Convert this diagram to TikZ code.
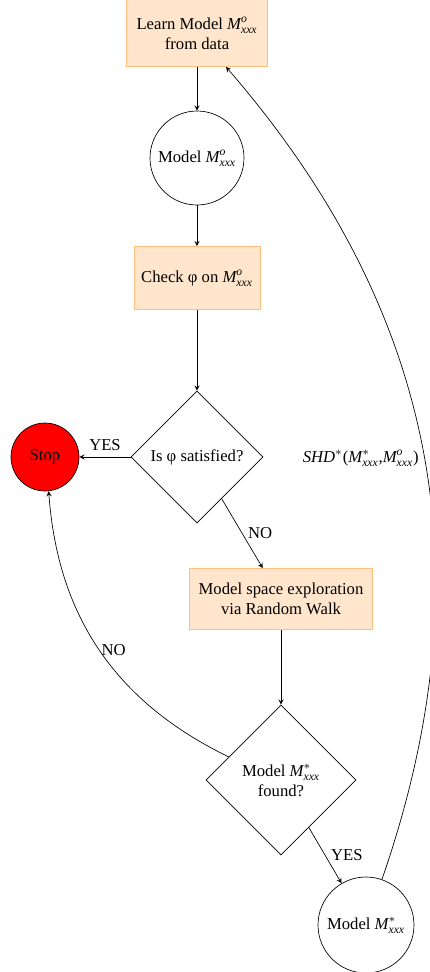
\documentclass[tikz,border=0pt]{standalone}
\usepackage{amsmath}
\usepackage{fontspec}
\setmainfont{Liberation Serif}
\usepackage{tikz}
\usetikzlibrary{shapes.geometric}
\newcommand{\Mxxx}[1]{\ensuremath{\text{\itshape M}^{#1}_{\text{\itshape xxx}}}}

\begin{document}
\begin{tikzpicture}[x=0.6pt, y=-0.6pt, >=stealth,
    stepbox/.style={rectangle, fill=orange!20, draw=orange!50, align=center, font=\normalsize},
    statecirc/.style={circle, draw=black, inner sep=1pt, align=center},
    testdiam/.style={diamond, draw=black, aspect=1, inner sep=1pt, align=center},
    flow/.style={->, black}]

  \useasboundingbox (0,0) rectangle (430,972);

  % ══ STEPS ═════════════════════════════════════════════════════
  \node[stepbox, minimum width=84.6pt, minimum height=40.2pt] (learn) at (197, 33)
    {Learn Model \Mxxx{\text{\itshape o}}\\ from data};
  \node[statecirc, minimum size=56.4pt] (modelo) at (197,158)
    {Model \Mxxx{\text{\itshape o}}};
  \node[stepbox, minimum width=75.6pt, minimum height=37.8pt] (check) at (197,278)
    {Check φ on \Mxxx{\text{\itshape o}}};

  % ══ TESTS ═════════════════════════════════════════════════════
  \node[testdiam, minimum size=79.2pt] (sat) at (197,457) {Is φ satisfied?};
  \node[statecirc, fill=red, minimum size=40.8pt] (stop) at (45,457) {Stop};

  \node[stepbox, minimum width=109.8pt, minimum height=36.6pt] (explore) at (281,599)
    {Model space exploration\\ via Random Walk};
  \node[testdiam, minimum size=90pt] (found) at (281,780)
    {Model \Mxxx{*}\\ found?};
  \node[statecirc, minimum size=57.6pt] (models) at (366,925)
    {Model \Mxxx{*}};

  % ══ ARROWS ════════════════════════════════════════════════════
  \draw[flow] (learn) -- (modelo);
  \draw[flow] (modelo) -- (check);
  \draw[flow] (check) -- (sat);
  \draw[flow] (sat) -- node[above] {YES} (stop);
  \draw[flow] (sat) -- node[right] {NO} (explore);
  \draw[flow] (explore) -- (found);
  \draw[flow] (found) -- node[right] {YES} (models);
  \draw[flow] (found) to[bend left=30] node[pos=.5, right, inner sep=1pt] {NO} (stop);
  \draw[flow] (models) to[bend right=30]
    node[pos=.49, left] {$\text{\itshape SHD}^{*}$(\Mxxx{*},\Mxxx{\text{\itshape o}})} (learn);

\end{tikzpicture}
\end{document}
